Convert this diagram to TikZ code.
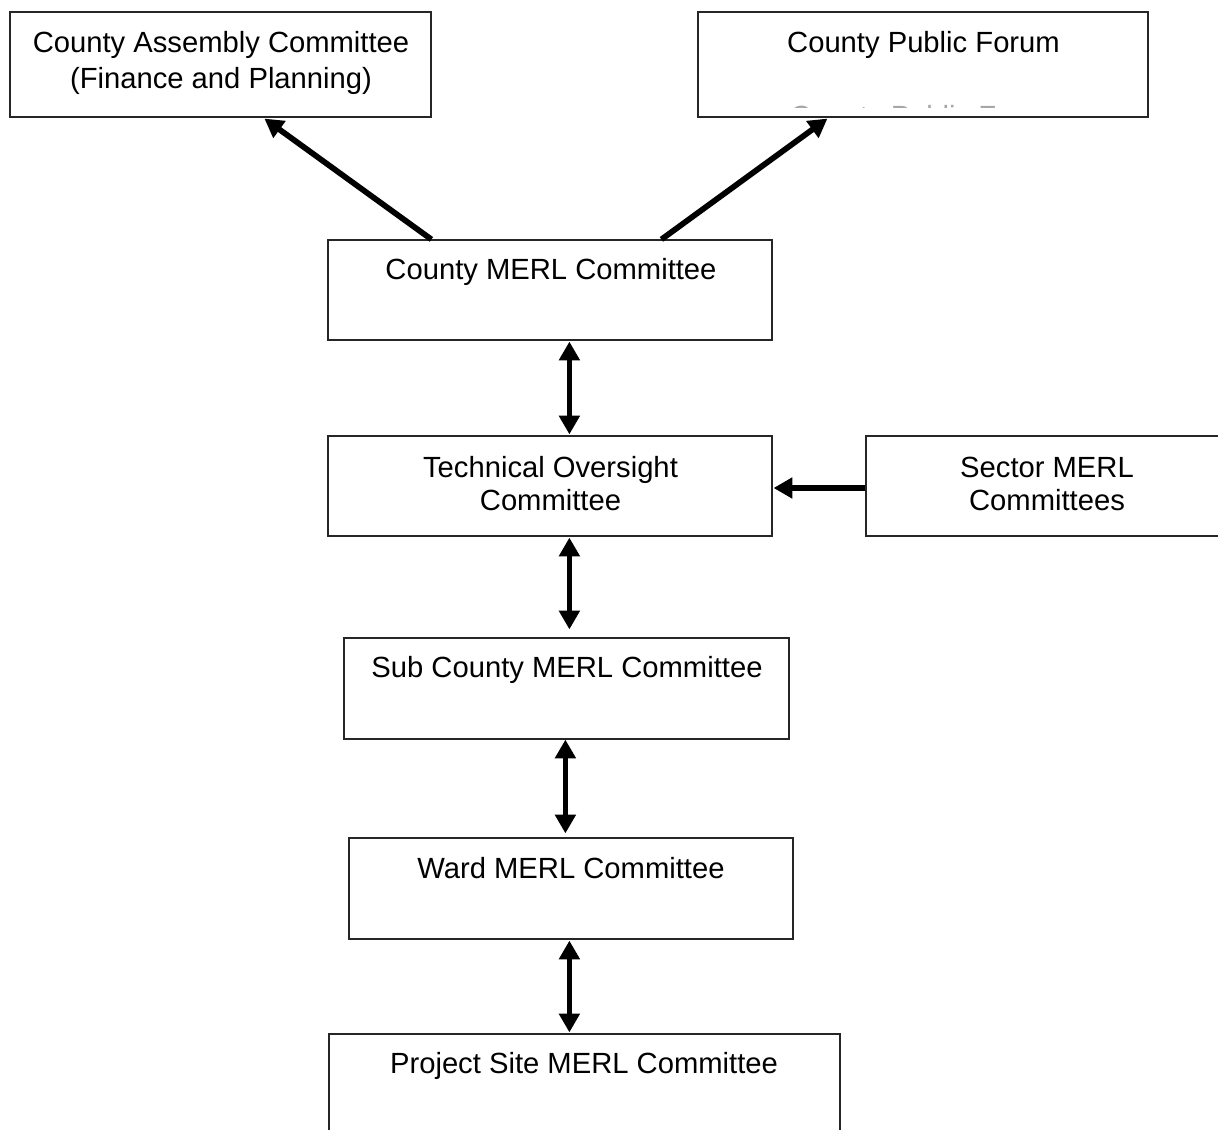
\documentclass[tikz,border=0pt]{standalone}
\usepackage{fontspec}
\setmainfont{Liberation Sans}
\usetikzlibrary{arrows.meta,calc}
\begin{document}
\begin{tikzpicture}[x=0.75pt,y=-0.75pt,
  box/.style={draw=black!85, line width=0.9pt, rectangle, inner sep=0pt},
  lbl/.style={font=\fontsize{21.9pt}{26pt}\selectfont, inner sep=0pt, anchor=base},
  tipx/.tip={Triangle[length=14pt,width=15pt]},
  arr/.style={line width=4.3pt, -tipx},
  darr/.style={line width=4.3pt, tipx-tipx}]
\fill[white] (0,0) rectangle (1218,1130);
\clip (0,0) rectangle (1218,1130);

% boxes
\node[box, minimum width=315.75pt, minimum height=78.75pt] (A) at (220.5,64.5) {};
\node[box, minimum width=337.5pt,  minimum height=78.75pt] (B) at (923,64.5) {};
\node[box, minimum width=333pt,    minimum height=75pt]    (C) at (550,290) {};
\node[box, minimum width=333pt,    minimum height=75pt]    (D) at (550,486) {};
\node[box, minimum width=271.5pt,  minimum height=75pt]    (E) at (1047,486) {};
\node[box, minimum width=333.75pt, minimum height=75.75pt] (F) at (566.5,688.5) {};
\node[box, minimum width=333pt,    minimum height=75.75pt] (G) at (571,888.5) {};
\node[box, minimum width=383.25pt, minimum height=75pt]    (H) at (584.5,1084) {};

% texts
\node[lbl] (tA1) at (221,53) {County Assembly Committee};
\node[lbl] (tA2) at (221,88.5) {(Finance and Planning)};
\node[lbl] (tB)  at (923.5,52.7) {County Public Forum};
\begin{scope}
  \clip (700,104.8) rectangle (1140,107.6);
  \node[lbl, text=black!35] (tBghost) at (926.5,126.5) {County Public Forum};
\end{scope}
\node[lbl] (tC)  at (551,280) {County MERL Committee};
\node[lbl] (tD1) at (550.5,478) {Technical Oversight};
\node[lbl] (tD2) at (550.5,511) {Committee};
\node[lbl] (tE1) at (1047,478) {Sector MERL};
\node[lbl] (tE2) at (1047,511) {Committees};
\node[lbl] (tF)  at (567,677.5) {Sub County MERL Committee};
\node[lbl] (tG)  at (571,878.5) {Ward MERL Committee};
\node[lbl] (tH)  at (584,1073) {Project Site MERL Committee};

% connectors
\draw[arr] ($(C.north west)+(104,0)$) -- ($(A.south west)+(255,1)$);
\draw[arr] ($(C.north west)+(334,0)$) -- ($(B.south west)+(130,1)$);
\draw[darr] ($(C.south west)+(242,1)$) -- ($(D.north west)+(242,-1)$);
\draw[arr] ($(E.west)+(0,2)$) -- ($(D.east)+(1,2)$);
\draw[darr] ($(D.south west)+(242,1)$) -- ($(F.north west)+(226,-8)$);
\draw[darr] ($(F.south west)+(222,0)$) -- ($(G.north west)+(217,-4)$);
\draw[darr] ($(G.south west)+(221,1)$) -- ($(H.north west)+(241,-1)$);
\end{tikzpicture}
\end{document}
